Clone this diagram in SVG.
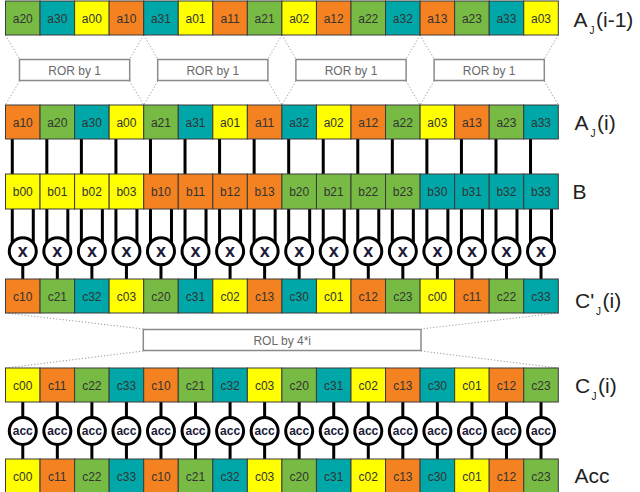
<svg xmlns="http://www.w3.org/2000/svg" width="640" height="492" viewBox="0 0 640 492">
<style>
.c rect{stroke:#3a3a3a;stroke-width:1}
.c text{font-family:"Liberation Sans",Arial,sans-serif;font-size:12px;fill:#333;text-anchor:middle}
.y rect{fill:#ffff00}.o rect{fill:#f58220}.g rect{fill:#77bb44}.t rect{fill:#00a7a9}
.box rect{fill:#fff;stroke:#8a8a8a;stroke-width:1.5}
.box text{font-family:"Liberation Sans",Arial,sans-serif;font-size:12px;fill:#6a6a6a;text-anchor:middle}
.dot{fill:none;stroke:#999;stroke-width:1;stroke-dasharray:1.2 2}
.wire{fill:none;stroke:#000;stroke-width:3}
.op circle{fill:#fff;stroke:#000;stroke-width:3}
.op text{font-family:"Liberation Sans",Arial,sans-serif;font-weight:bold;fill:#1c1c3a;text-anchor:middle}
.mul text{font-size:18px}.acc text{font-size:12px}
.lbl{font-family:"Liberation Sans",Arial,sans-serif;font-size:21px;fill:#222}
.sub{font-size:10px}
</style>

<!-- connectors -->
<g id="connectors">
<path class="dot" d="M5.5 35L19.5 59M143.7 35L129.7 59M19.5 81L5.5 105M129.7 81L143.7 105
M143.7 35L157.7 59M281.9 35L267.9 59M157.7 81L143.7 105M267.9 81L281.9 105
M281.9 35L295.9 59M420.1 35L406.1 59M295.9 81L281.9 105M406.1 81L420.1 105
M420.1 35L434.1 59M558.3 35L544.3 59M434.1 81L420.1 105M544.3 81L558.3 105
M5.5 313L143.3 329M558.3 313L421 329M143.3 351L5.5 368M421 351L558.3 368"/>
<path class="wire" d="M12.28 139V174M46.83 139V174M81.38 139V174M115.93 139V174M150.48 139V174M185.03 139V174M219.58 139V174M254.13 139V174M288.68 139V174M323.23 139V174M357.78 139V174M392.33 139V174M426.88 139V174M461.43 139V174M495.98 139V174M530.53 139V174"/>
<path class="wire" d="M12.28 209V244M46.83 209V244M81.38 209V244M115.93 209V244M150.48 209V244M185.03 209V244M219.58 209V244M254.13 209V244M288.68 209V244M323.23 209V244M357.78 209V244M392.33 209V244M426.88 209V244M461.43 209V244M495.98 209V244M530.53 209V244"/>
<path class="wire" d="M33.28 209V244M67.83 209V244M102.38 209V244M136.93 209V244M171.48 209V244M206.03 209V244M240.58 209V244M275.13 209V244M309.68 209V244M344.23 209V244M378.78 209V244M413.33 209V244M447.88 209V244M482.43 209V244M516.98 209V244M551.53 209V244"/>
<path class="wire" d="M22.78 264V279M57.33 264V279M91.88 264V279M126.43 264V279M160.98 264V279M195.53 264V279M230.08 264V279M264.63 264V279M299.18 264V279M333.73 264V279M368.28 264V279M402.83 264V279M437.38 264V279M471.93 264V279M506.48 264V279M541.03 264V279"/>
<path class="wire" d="M22.78 402V418M57.33 402V418M91.88 402V418M126.43 402V418M160.98 402V418M195.53 402V418M230.08 402V418M264.63 402V418M299.18 402V418M333.73 402V418M368.28 402V418M402.83 402V418M437.38 402V418M471.93 402V418M506.48 402V418M541.03 402V418"/>
<path class="wire" d="M22.78 444V459M57.33 444V459M91.88 444V459M126.43 444V459M160.98 444V459M195.53 444V459M230.08 444V459M264.63 444V459M299.18 444V459M333.73 444V459M368.28 444V459M402.83 444V459M437.38 444V459M471.93 444V459M506.48 444V459M541.03 444V459"/>
</g>

<!-- row A_J(i-1) -->
<g id="r1a20" class="c g" transform="translate(5.5,1)"><rect width="34.55" height="34"/><text x="17.28" y="21.5">a20</text></g>
<g id="r1a30" class="c t" transform="translate(40.05,1)"><rect width="34.55" height="34"/><text x="17.28" y="21.5">a30</text></g>
<g id="r1a00" class="c y" transform="translate(74.6,1)"><rect width="34.55" height="34"/><text x="17.28" y="21.5">a00</text></g>
<g id="r1a10" class="c o" transform="translate(109.15,1)"><rect width="34.55" height="34"/><text x="17.28" y="21.5">a10</text></g>
<g id="r1a31" class="c t" transform="translate(143.7,1)"><rect width="34.55" height="34"/><text x="17.28" y="21.5">a31</text></g>
<g id="r1a01" class="c y" transform="translate(178.25,1)"><rect width="34.55" height="34"/><text x="17.28" y="21.5">a01</text></g>
<g id="r1a11" class="c o" transform="translate(212.8,1)"><rect width="34.55" height="34"/><text x="17.28" y="21.5">a11</text></g>
<g id="r1a21" class="c g" transform="translate(247.35,1)"><rect width="34.55" height="34"/><text x="17.28" y="21.5">a21</text></g>
<g id="r1a02" class="c y" transform="translate(281.9,1)"><rect width="34.55" height="34"/><text x="17.28" y="21.5">a02</text></g>
<g id="r1a12" class="c o" transform="translate(316.45,1)"><rect width="34.55" height="34"/><text x="17.28" y="21.5">a12</text></g>
<g id="r1a22" class="c g" transform="translate(351,1)"><rect width="34.55" height="34"/><text x="17.28" y="21.5">a22</text></g>
<g id="r1a32" class="c t" transform="translate(385.55,1)"><rect width="34.55" height="34"/><text x="17.28" y="21.5">a32</text></g>
<g id="r1a13" class="c o" transform="translate(420.1,1)"><rect width="34.55" height="34"/><text x="17.28" y="21.5">a13</text></g>
<g id="r1a23" class="c g" transform="translate(454.65,1)"><rect width="34.55" height="34"/><text x="17.28" y="21.5">a23</text></g>
<g id="r1a33" class="c t" transform="translate(489.2,1)"><rect width="34.55" height="34"/><text x="17.28" y="21.5">a33</text></g>
<g id="r1a03" class="c y" transform="translate(523.75,1)"><rect width="34.55" height="34"/><text x="17.28" y="21.5">a03</text></g>

<!-- ROR boxes -->
<g id="ror1" class="box"><rect x="19.5" y="59.5" width="110.2" height="21"/><text x="74.6" y="74.5">ROR by 1</text></g>
<g id="ror2" class="box"><rect x="157.7" y="59.5" width="110.2" height="21"/><text x="212.8" y="74.5">ROR by 1</text></g>
<g id="ror3" class="box"><rect x="295.9" y="59.5" width="110.2" height="21"/><text x="351" y="74.5">ROR by 1</text></g>
<g id="ror4" class="box"><rect x="434.1" y="59.5" width="110.2" height="21"/><text x="489.2" y="74.5">ROR by 1</text></g>

<!-- row A_J(i) -->
<g id="r2a10" class="c o" transform="translate(5.5,105)"><rect width="34.55" height="34"/><text x="17.28" y="21.5">a10</text></g>
<g id="r2a20" class="c g" transform="translate(40.05,105)"><rect width="34.55" height="34"/><text x="17.28" y="21.5">a20</text></g>
<g id="r2a30" class="c t" transform="translate(74.6,105)"><rect width="34.55" height="34"/><text x="17.28" y="21.5">a30</text></g>
<g id="r2a00" class="c y" transform="translate(109.15,105)"><rect width="34.55" height="34"/><text x="17.28" y="21.5">a00</text></g>
<g id="r2a21" class="c g" transform="translate(143.7,105)"><rect width="34.55" height="34"/><text x="17.28" y="21.5">a21</text></g>
<g id="r2a31" class="c t" transform="translate(178.25,105)"><rect width="34.55" height="34"/><text x="17.28" y="21.5">a31</text></g>
<g id="r2a01" class="c y" transform="translate(212.8,105)"><rect width="34.55" height="34"/><text x="17.28" y="21.5">a01</text></g>
<g id="r2a11" class="c o" transform="translate(247.35,105)"><rect width="34.55" height="34"/><text x="17.28" y="21.5">a11</text></g>
<g id="r2a32" class="c t" transform="translate(281.9,105)"><rect width="34.55" height="34"/><text x="17.28" y="21.5">a32</text></g>
<g id="r2a02" class="c y" transform="translate(316.45,105)"><rect width="34.55" height="34"/><text x="17.28" y="21.5">a02</text></g>
<g id="r2a12" class="c o" transform="translate(351,105)"><rect width="34.55" height="34"/><text x="17.28" y="21.5">a12</text></g>
<g id="r2a22" class="c g" transform="translate(385.55,105)"><rect width="34.55" height="34"/><text x="17.28" y="21.5">a22</text></g>
<g id="r2a03" class="c y" transform="translate(420.1,105)"><rect width="34.55" height="34"/><text x="17.28" y="21.5">a03</text></g>
<g id="r2a13" class="c o" transform="translate(454.65,105)"><rect width="34.55" height="34"/><text x="17.28" y="21.5">a13</text></g>
<g id="r2a23" class="c g" transform="translate(489.2,105)"><rect width="34.55" height="34"/><text x="17.28" y="21.5">a23</text></g>
<g id="r2a33" class="c t" transform="translate(523.75,105)"><rect width="34.55" height="34"/><text x="17.28" y="21.5">a33</text></g>

<!-- row B -->
<g id="b00" class="c y" transform="translate(5.5,174)"><rect width="34.55" height="35"/><text x="17.28" y="22">b00</text></g>
<g id="b01" class="c y" transform="translate(40.05,174)"><rect width="34.55" height="35"/><text x="17.28" y="22">b01</text></g>
<g id="b02" class="c y" transform="translate(74.6,174)"><rect width="34.55" height="35"/><text x="17.28" y="22">b02</text></g>
<g id="b03" class="c y" transform="translate(109.15,174)"><rect width="34.55" height="35"/><text x="17.28" y="22">b03</text></g>
<g id="b10" class="c o" transform="translate(143.7,174)"><rect width="34.55" height="35"/><text x="17.28" y="22">b10</text></g>
<g id="b11" class="c o" transform="translate(178.25,174)"><rect width="34.55" height="35"/><text x="17.28" y="22">b11</text></g>
<g id="b12" class="c o" transform="translate(212.8,174)"><rect width="34.55" height="35"/><text x="17.28" y="22">b12</text></g>
<g id="b13" class="c o" transform="translate(247.35,174)"><rect width="34.55" height="35"/><text x="17.28" y="22">b13</text></g>
<g id="b20" class="c g" transform="translate(281.9,174)"><rect width="34.55" height="35"/><text x="17.28" y="22">b20</text></g>
<g id="b21" class="c g" transform="translate(316.45,174)"><rect width="34.55" height="35"/><text x="17.28" y="22">b21</text></g>
<g id="b22" class="c g" transform="translate(351,174)"><rect width="34.55" height="35"/><text x="17.28" y="22">b22</text></g>
<g id="b23" class="c g" transform="translate(385.55,174)"><rect width="34.55" height="35"/><text x="17.28" y="22">b23</text></g>
<g id="b30" class="c t" transform="translate(420.1,174)"><rect width="34.55" height="35"/><text x="17.28" y="22">b30</text></g>
<g id="b31" class="c t" transform="translate(454.65,174)"><rect width="34.55" height="35"/><text x="17.28" y="22">b31</text></g>
<g id="b32" class="c t" transform="translate(489.2,174)"><rect width="34.55" height="35"/><text x="17.28" y="22">b32</text></g>
<g id="b33" class="c t" transform="translate(523.75,174)"><rect width="34.55" height="35"/><text x="17.28" y="22">b33</text></g>

<!-- multipliers -->
<g id="m0" class="op mul" transform="translate(22.78,251.3)"><circle r="13.5"/><text y="5.8">x</text></g>
<g id="m1" class="op mul" transform="translate(57.33,251.3)"><circle r="13.5"/><text y="5.8">x</text></g>
<g id="m2" class="op mul" transform="translate(91.88,251.3)"><circle r="13.5"/><text y="5.8">x</text></g>
<g id="m3" class="op mul" transform="translate(126.43,251.3)"><circle r="13.5"/><text y="5.8">x</text></g>
<g id="m4" class="op mul" transform="translate(160.98,251.3)"><circle r="13.5"/><text y="5.8">x</text></g>
<g id="m5" class="op mul" transform="translate(195.53,251.3)"><circle r="13.5"/><text y="5.8">x</text></g>
<g id="m6" class="op mul" transform="translate(230.08,251.3)"><circle r="13.5"/><text y="5.8">x</text></g>
<g id="m7" class="op mul" transform="translate(264.63,251.3)"><circle r="13.5"/><text y="5.8">x</text></g>
<g id="m8" class="op mul" transform="translate(299.18,251.3)"><circle r="13.5"/><text y="5.8">x</text></g>
<g id="m9" class="op mul" transform="translate(333.73,251.3)"><circle r="13.5"/><text y="5.8">x</text></g>
<g id="m10" class="op mul" transform="translate(368.28,251.3)"><circle r="13.5"/><text y="5.8">x</text></g>
<g id="m11" class="op mul" transform="translate(402.83,251.3)"><circle r="13.5"/><text y="5.8">x</text></g>
<g id="m12" class="op mul" transform="translate(437.38,251.3)"><circle r="13.5"/><text y="5.8">x</text></g>
<g id="m13" class="op mul" transform="translate(471.93,251.3)"><circle r="13.5"/><text y="5.8">x</text></g>
<g id="m14" class="op mul" transform="translate(506.48,251.3)"><circle r="13.5"/><text y="5.8">x</text></g>
<g id="m15" class="op mul" transform="translate(541.03,251.3)"><circle r="13.5"/><text y="5.8">x</text></g>

<!-- row C'_J(i) -->
<g id="cp10" class="c o" transform="translate(5.5,279)"><rect width="34.55" height="34"/><text x="17.28" y="21.5">c10</text></g>
<g id="cp21" class="c g" transform="translate(40.05,279)"><rect width="34.55" height="34"/><text x="17.28" y="21.5">c21</text></g>
<g id="cp32" class="c t" transform="translate(74.6,279)"><rect width="34.55" height="34"/><text x="17.28" y="21.5">c32</text></g>
<g id="cp03" class="c y" transform="translate(109.15,279)"><rect width="34.55" height="34"/><text x="17.28" y="21.5">c03</text></g>
<g id="cp20" class="c g" transform="translate(143.7,279)"><rect width="34.55" height="34"/><text x="17.28" y="21.5">c20</text></g>
<g id="cp31" class="c t" transform="translate(178.25,279)"><rect width="34.55" height="34"/><text x="17.28" y="21.5">c31</text></g>
<g id="cp02" class="c y" transform="translate(212.8,279)"><rect width="34.55" height="34"/><text x="17.28" y="21.5">c02</text></g>
<g id="cp13" class="c o" transform="translate(247.35,279)"><rect width="34.55" height="34"/><text x="17.28" y="21.5">c13</text></g>
<g id="cp30" class="c t" transform="translate(281.9,279)"><rect width="34.55" height="34"/><text x="17.28" y="21.5">c30</text></g>
<g id="cp01" class="c y" transform="translate(316.45,279)"><rect width="34.55" height="34"/><text x="17.28" y="21.5">c01</text></g>
<g id="cp12" class="c o" transform="translate(351,279)"><rect width="34.55" height="34"/><text x="17.28" y="21.5">c12</text></g>
<g id="cp23" class="c g" transform="translate(385.55,279)"><rect width="34.55" height="34"/><text x="17.28" y="21.5">c23</text></g>
<g id="cp00" class="c y" transform="translate(420.1,279)"><rect width="34.55" height="34"/><text x="17.28" y="21.5">c00</text></g>
<g id="cp11" class="c o" transform="translate(454.65,279)"><rect width="34.55" height="34"/><text x="17.28" y="21.5">c11</text></g>
<g id="cp22" class="c g" transform="translate(489.2,279)"><rect width="34.55" height="34"/><text x="17.28" y="21.5">c22</text></g>
<g id="cp33" class="c t" transform="translate(523.75,279)"><rect width="34.55" height="34"/><text x="17.28" y="21.5">c33</text></g>

<!-- ROL box -->
<g id="rol" class="box"><rect x="143.3" y="329.5" width="277.7" height="21"/><text x="282.2" y="344.5">ROL by 4*i</text></g>

<!-- row C_J(i) -->
<g id="c00" class="c y" transform="translate(5.5,368)"><rect width="34.55" height="34"/><text x="17.28" y="21.5">c00</text></g>
<g id="c11" class="c o" transform="translate(40.05,368)"><rect width="34.55" height="34"/><text x="17.28" y="21.5">c11</text></g>
<g id="c22" class="c g" transform="translate(74.6,368)"><rect width="34.55" height="34"/><text x="17.28" y="21.5">c22</text></g>
<g id="c33" class="c t" transform="translate(109.15,368)"><rect width="34.55" height="34"/><text x="17.28" y="21.5">c33</text></g>
<g id="c10" class="c o" transform="translate(143.7,368)"><rect width="34.55" height="34"/><text x="17.28" y="21.5">c10</text></g>
<g id="c21" class="c g" transform="translate(178.25,368)"><rect width="34.55" height="34"/><text x="17.28" y="21.5">c21</text></g>
<g id="c32" class="c t" transform="translate(212.8,368)"><rect width="34.55" height="34"/><text x="17.28" y="21.5">c32</text></g>
<g id="c03" class="c y" transform="translate(247.35,368)"><rect width="34.55" height="34"/><text x="17.28" y="21.5">c03</text></g>
<g id="c20" class="c g" transform="translate(281.9,368)"><rect width="34.55" height="34"/><text x="17.28" y="21.5">c20</text></g>
<g id="c31" class="c t" transform="translate(316.45,368)"><rect width="34.55" height="34"/><text x="17.28" y="21.5">c31</text></g>
<g id="c02" class="c y" transform="translate(351,368)"><rect width="34.55" height="34"/><text x="17.28" y="21.5">c02</text></g>
<g id="c13" class="c o" transform="translate(385.55,368)"><rect width="34.55" height="34"/><text x="17.28" y="21.5">c13</text></g>
<g id="c30" class="c t" transform="translate(420.1,368)"><rect width="34.55" height="34"/><text x="17.28" y="21.5">c30</text></g>
<g id="c01" class="c y" transform="translate(454.65,368)"><rect width="34.55" height="34"/><text x="17.28" y="21.5">c01</text></g>
<g id="c12" class="c o" transform="translate(489.2,368)"><rect width="34.55" height="34"/><text x="17.28" y="21.5">c12</text></g>
<g id="c23" class="c g" transform="translate(523.75,368)"><rect width="34.55" height="34"/><text x="17.28" y="21.5">c23</text></g>

<!-- accumulators -->
<g id="acc0" class="op acc" transform="translate(22.78,431)"><circle r="13.5"/><text y="4.3">acc</text></g>
<g id="acc1" class="op acc" transform="translate(57.33,431)"><circle r="13.5"/><text y="4.3">acc</text></g>
<g id="acc2" class="op acc" transform="translate(91.88,431)"><circle r="13.5"/><text y="4.3">acc</text></g>
<g id="acc3" class="op acc" transform="translate(126.43,431)"><circle r="13.5"/><text y="4.3">acc</text></g>
<g id="acc4" class="op acc" transform="translate(160.98,431)"><circle r="13.5"/><text y="4.3">acc</text></g>
<g id="acc5" class="op acc" transform="translate(195.53,431)"><circle r="13.5"/><text y="4.3">acc</text></g>
<g id="acc6" class="op acc" transform="translate(230.08,431)"><circle r="13.5"/><text y="4.3">acc</text></g>
<g id="acc7" class="op acc" transform="translate(264.63,431)"><circle r="13.5"/><text y="4.3">acc</text></g>
<g id="acc8" class="op acc" transform="translate(299.18,431)"><circle r="13.5"/><text y="4.3">acc</text></g>
<g id="acc9" class="op acc" transform="translate(333.73,431)"><circle r="13.5"/><text y="4.3">acc</text></g>
<g id="acc10" class="op acc" transform="translate(368.28,431)"><circle r="13.5"/><text y="4.3">acc</text></g>
<g id="acc11" class="op acc" transform="translate(402.83,431)"><circle r="13.5"/><text y="4.3">acc</text></g>
<g id="acc12" class="op acc" transform="translate(437.38,431)"><circle r="13.5"/><text y="4.3">acc</text></g>
<g id="acc13" class="op acc" transform="translate(471.93,431)"><circle r="13.5"/><text y="4.3">acc</text></g>
<g id="acc14" class="op acc" transform="translate(506.48,431)"><circle r="13.5"/><text y="4.3">acc</text></g>
<g id="acc15" class="op acc" transform="translate(541.03,431)"><circle r="13.5"/><text y="4.3">acc</text></g>

<!-- row Acc -->
<g id="d00" class="c y" transform="translate(5.5,459)"><rect width="34.55" height="34"/><text x="17.28" y="21.5">c00</text></g>
<g id="d11" class="c o" transform="translate(40.05,459)"><rect width="34.55" height="34"/><text x="17.28" y="21.5">c11</text></g>
<g id="d22" class="c g" transform="translate(74.6,459)"><rect width="34.55" height="34"/><text x="17.28" y="21.5">c22</text></g>
<g id="d33" class="c t" transform="translate(109.15,459)"><rect width="34.55" height="34"/><text x="17.28" y="21.5">c33</text></g>
<g id="d10" class="c o" transform="translate(143.7,459)"><rect width="34.55" height="34"/><text x="17.28" y="21.5">c10</text></g>
<g id="d21" class="c g" transform="translate(178.25,459)"><rect width="34.55" height="34"/><text x="17.28" y="21.5">c21</text></g>
<g id="d32" class="c t" transform="translate(212.8,459)"><rect width="34.55" height="34"/><text x="17.28" y="21.5">c32</text></g>
<g id="d03" class="c y" transform="translate(247.35,459)"><rect width="34.55" height="34"/><text x="17.28" y="21.5">c03</text></g>
<g id="d20" class="c g" transform="translate(281.9,459)"><rect width="34.55" height="34"/><text x="17.28" y="21.5">c20</text></g>
<g id="d31" class="c t" transform="translate(316.45,459)"><rect width="34.55" height="34"/><text x="17.28" y="21.5">c31</text></g>
<g id="d02" class="c y" transform="translate(351,459)"><rect width="34.55" height="34"/><text x="17.28" y="21.5">c02</text></g>
<g id="d13" class="c o" transform="translate(385.55,459)"><rect width="34.55" height="34"/><text x="17.28" y="21.5">c13</text></g>
<g id="d30" class="c t" transform="translate(420.1,459)"><rect width="34.55" height="34"/><text x="17.28" y="21.5">c30</text></g>
<g id="d01" class="c y" transform="translate(454.65,459)"><rect width="34.55" height="34"/><text x="17.28" y="21.5">c01</text></g>
<g id="d12" class="c o" transform="translate(489.2,459)"><rect width="34.55" height="34"/><text x="17.28" y="21.5">c12</text></g>
<g id="d23" class="c g" transform="translate(523.75,459)"><rect width="34.55" height="34"/><text x="17.28" y="21.5">c23</text></g>

<!-- row labels -->
<g id="lbl-a1"><text class="lbl" x="573.5" y="27">A<tspan class="sub" x="589.5" y="34">J</tspan><tspan x="596" y="27">(i-1)</tspan></text></g>
<g id="lbl-a"><text class="lbl" x="574.5" y="130">A<tspan class="sub" x="590.5" y="137">J</tspan><tspan x="597" y="130">(i)</tspan></text></g>
<g id="lbl-b"><text class="lbl" x="572.5" y="199">B</text></g>
<g id="lbl-cp"><text class="lbl" x="575" y="308">C'<tspan class="sub" x="596" y="315">J</tspan><tspan x="602.5" y="308">(i)</tspan></text></g>
<g id="lbl-c"><text class="lbl" x="575" y="393">C<tspan class="sub" x="591.5" y="400">J</tspan><tspan x="598" y="393">(i)</tspan></text></g>
<g id="lbl-acc"><text class="lbl" x="574.5" y="483">Acc</text></g>
</svg>
